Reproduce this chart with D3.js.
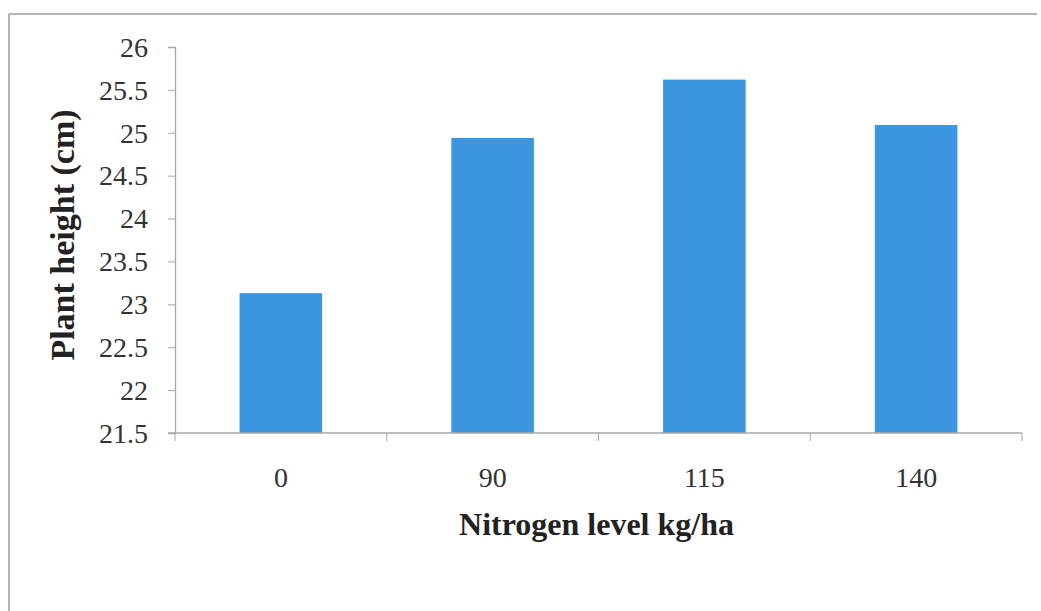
<!DOCTYPE html>
<html><head><meta charset="utf-8">
<script src="https://cdn.jsdelivr.net/npm/d3@7"></script>
<style>html,body{margin:0;padding:0;background:#fff;}svg{display:block;}</style>
</head><body>
<svg id="c" width="1041" height="611"></svg>
<script>
const categories = ["0", "90", "115", "140"];
const values = [23.13, 24.94, 25.62, 25.09];
const yTicks = [21.5, 22, 22.5, 23, 23.5, 24, 24.5, 25, 25.5, 26];
const xTitle = "Nitrogen level kg/ha";
const yTitle = "Plant height (cm)";

(function () {
const svg = d3.select("#c");
const pl = 175, pr = 1022, pt = 47, pb = 433;
const font = "'Liberation Serif','Times New Roman',serif";

// frame
svg.append("line").attr("x1", 9).attr("x2", 1037).attr("y1", 14).attr("y2", 14)
  .attr("stroke", "#b4b4b4").attr("stroke-width", 2);
svg.append("line").attr("x1", 9).attr("x2", 9).attr("y1", 14).attr("y2", 611)
  .attr("stroke", "#b4b4b4").attr("stroke-width", 2);

const x = d3.scaleBand().domain(categories).range([pl, pr]).paddingInner(0.61).paddingOuter(0.305);
const xb = d3.scaleBand().domain(categories).range([pl, pr]).padding(0);
const y = d3.scaleLinear().domain([21.5, 26]).range([pb, pt]);

// bars
svg.append("g").selectAll("rect").data(values).join("rect")
  .attr("x", (d, i) => x(categories[i]))
  .attr("width", x.bandwidth())
  .attr("y", d => y(d))
  .attr("height", d => y(21.5) - y(d))
  .attr("fill", "#3b95df");

// y axis
const ya = svg.append("g").attr("transform", `translate(${pl},0)`)
  .call(d3.axisLeft(y).tickValues(yTicks).tickSize(7).tickPadding(20).tickFormat(d => String(d)));
ya.select(".domain").attr("stroke", "#a8a8a8").attr("stroke-width", 1.3);
ya.selectAll(".tick line").attr("stroke", "#a8a8a8");
ya.selectAll("text").attr("font-family", font).attr("font-size", 28).attr("fill", "#333").attr("dy", "0.33em");

// x axis
const xa = svg.append("g").attr("transform", `translate(0,${pb})`)
  .call(d3.axisBottom(xb).tickSize(0).tickPadding(34));
xa.select(".domain").attr("stroke", "#a8a8a8").attr("stroke-width", 1.3).attr("d", `M${pl - 7},0H${pr}`);
xa.selectAll("text").attr("font-family", font).attr("font-size", 28).attr("fill", "#333");
const bounds = categories.map(c => xb(c)).concat([pr]);
svg.append("g").selectAll("line").data(bounds).join("line")
  .attr("x1", d => d).attr("x2", d => d).attr("y1", pb).attr("y2", pb + 8)
  .attr("stroke", "#a8a8a8");

// titles
svg.append("text").attr("x", (pl + pr) / 2 - 2).attr("y", 535)
  .attr("text-anchor", "middle").attr("font-family", font).attr("font-weight", "bold")
  .attr("font-size", 32).attr("fill", "#222").text(xTitle);
svg.append("text").attr("transform", `translate(74,${(pt + pb) / 2 - 5}) rotate(-90)`)
  .attr("text-anchor", "middle").attr("font-family", font).attr("font-weight", "bold")
  .attr("font-size", 34).attr("fill", "#222").text(yTitle);
})();
</script>
</body></html>
